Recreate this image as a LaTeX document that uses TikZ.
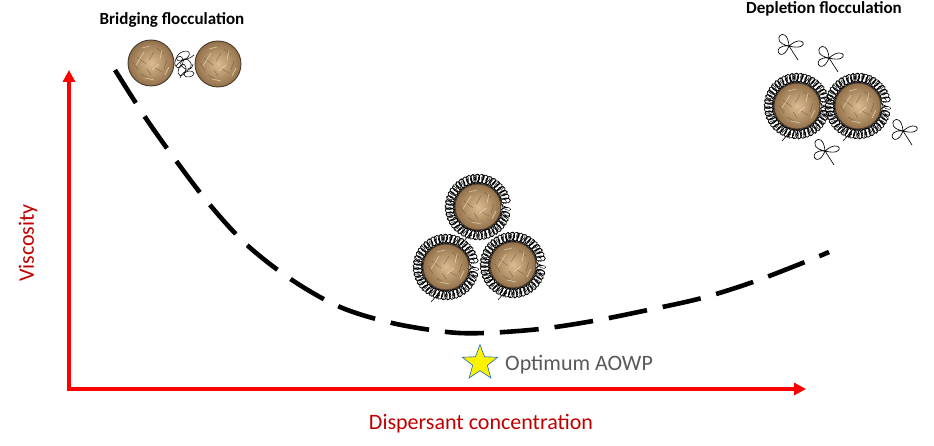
\documentclass[tikz,border=0pt]{standalone}
\usepackage{fontspec}
\setmainfont{Carlito}
\usetikzlibrary{arrows.meta,shapes.geometric,decorations.pathmorphing}
\definecolor{axisred}{HTML}{FF0000}
\definecolor{labelred}{HTML}{C00000}
\definecolor{optgray}{HTML}{595959}
\definecolor{tanL}{HTML}{DBBD92}
\definecolor{tanD}{HTML}{93704A}
\definecolor{creaseD}{HTML}{6B4E30}
\definecolor{creaseL}{HTML}{EFDDBB}
\definecolor{coreedge}{HTML}{4A3D30}
\definecolor{starblue}{HTML}{2E75B6}
\tikzset{
  axis/.style={axisred, line width=3.3pt, -{Triangle[length=12pt,width=12pt]}},
  curvestyle/.style={black, line width=4.6pt, dash pattern=on 39pt off 16pt},
  axislabel/.style={labelred, font=\fontsize{22}{26}\selectfont, inner sep=0pt},
  title/.style={font=\bfseries\fontsize{17}{20}\selectfont, inner sep=0pt},
  haloA/.style={black, line width=0.7pt, decorate, decoration={coil, amplitude=4.8pt, segment length=3.8pt, aspect=0.75}},
  haloB/.style={black, line width=0.4pt, decorate, decoration={coil, amplitude=4.2pt, segment length=5pt, aspect=0.6}},
  core/.pic={
    \fill[inner color=tanL, outer color=tanD] (0,0) circle (23pt);
    \draw[creaseD, line width=0.5pt, opacity=0.6] (-14,-6) -- (-5,1) (-2,-3) -- (3,-11) (4,5) -- (11,9)
         (13,6) -- (16,-3) (-10,11) -- (-3,15) (6,-15) -- (13,-9) (-18,-1) -- (-13,7) (-4,6) -- (0,12);
    \draw[creaseL, line width=0.7pt, opacity=0.7] (-15,2) -- (-7,-11) (1,7) -- (8,1) (9,-4) -- (11,-13)
         (-6,15) -- (3,17) (-9,-15) -- (-1,-17) (14,12) -- (18,4);
    \draw[coreedge, line width=0.9pt] (0,0) circle (23pt);
  },
  haloed/.pic={
    \draw[haloA] (0,0) circle (27.5pt);
    \draw[haloB, rotate=17] (0,0) circle (28pt);
    \pic {core};
    \draw[black, line width=0.6pt] (-8,27) -- (-15,35);
  },
  bowtie/.pic={
    \draw[black, line width=0.65pt]
      (0,0) .. controls (-22,-4) and (-2,-24) .. (0,0)
      (0,0) .. controls (16,-14) and (22,6) .. (0,0)
      (0,0) .. controls (-20,-2) and (-8,20) .. (0,0)
      (0,0) -- (9,14);
  },
}
\begin{document}
\begin{tikzpicture}[x=1pt,y=-1pt]
\useasboundingbox (0,0) rectangle (934,446);
% axes
\coordinate (origin) at (69,389);
\coordinate (ytop) at (69,70);
\coordinate (xend) at (806,389);
\draw[axis] (origin) -- (ytop);
\draw[axis] ([xshift=-1.65pt]origin) -- (xend);
\node[axislabel, rotate=90] (ylab) at (28,243) {Viscosity};
\node[axislabel] (xlab) at (481,424) {Dispersant concentration};
% curve
\draw[curvestyle] plot[smooth, tension=0.55] coordinates {
 (115,70) (145,117) (177,162) (210,205) (247,245) (292,280) (340,307)
 (392,323) (447,332) (485,333) (540,329) (593,321) (648,310) (702,298)
 (753,282) (805,262) (829,252)};
% star and label
\node[star, star points=5, star point ratio=2.4, fill=yellow, draw=starblue, line width=0.7pt,
      minimum size=37pt, inner sep=0pt] (opt) at (480,363) {};
\node[optgray, font=\fontsize{22}{26}\selectfont, anchor=west, inner sep=0pt] (optlab) at (505,365) {Optimum AOWP};
% titles
\node[title] (bridgt) at (172,20) {Bridging flocculation};
\node[title] (deplt) at (824,9) {Depletion flocculation};
% bridging flocculation particles
\pic at (151,63) {core};
\pic at (218,64) {core};
\begin{scope}[black, line width=0.55pt]
  \draw[rotate around={30:(183,56)}] (183,56) ellipse (7pt and 4pt);
  \draw[rotate around={-40:(186,64)}] (186,64) ellipse (6pt and 4.5pt);
  \draw[rotate around={70:(182,70)}] (182,70) ellipse (6pt and 3.5pt);
  \draw[rotate around={10:(189,74)}] (189,74) ellipse (5pt and 3pt);
  \draw[rotate around={-15:(179,62)}] (179,62) ellipse (4pt and 6pt);
  \draw (176,66) .. controls (182,58) and (190,60) .. (194,55);
  \draw (180,78) .. controls (184,68) and (192,72) .. (193,64);
\end{scope}
% stabilised particles
\pic at (478,207) {haloed};
\pic at (446,267) {haloed};
\pic at (513,265) {haloed};
% depletion flocculation
\pic at (797,106) {haloed};
\pic at (858,106) {haloed};
\pic at (789,46) {bowtie};
\pic at (829,58) {bowtie};
\pic at (903,131) {bowtie};
\pic at (825,151) {bowtie};
\end{tikzpicture}
\end{document}
